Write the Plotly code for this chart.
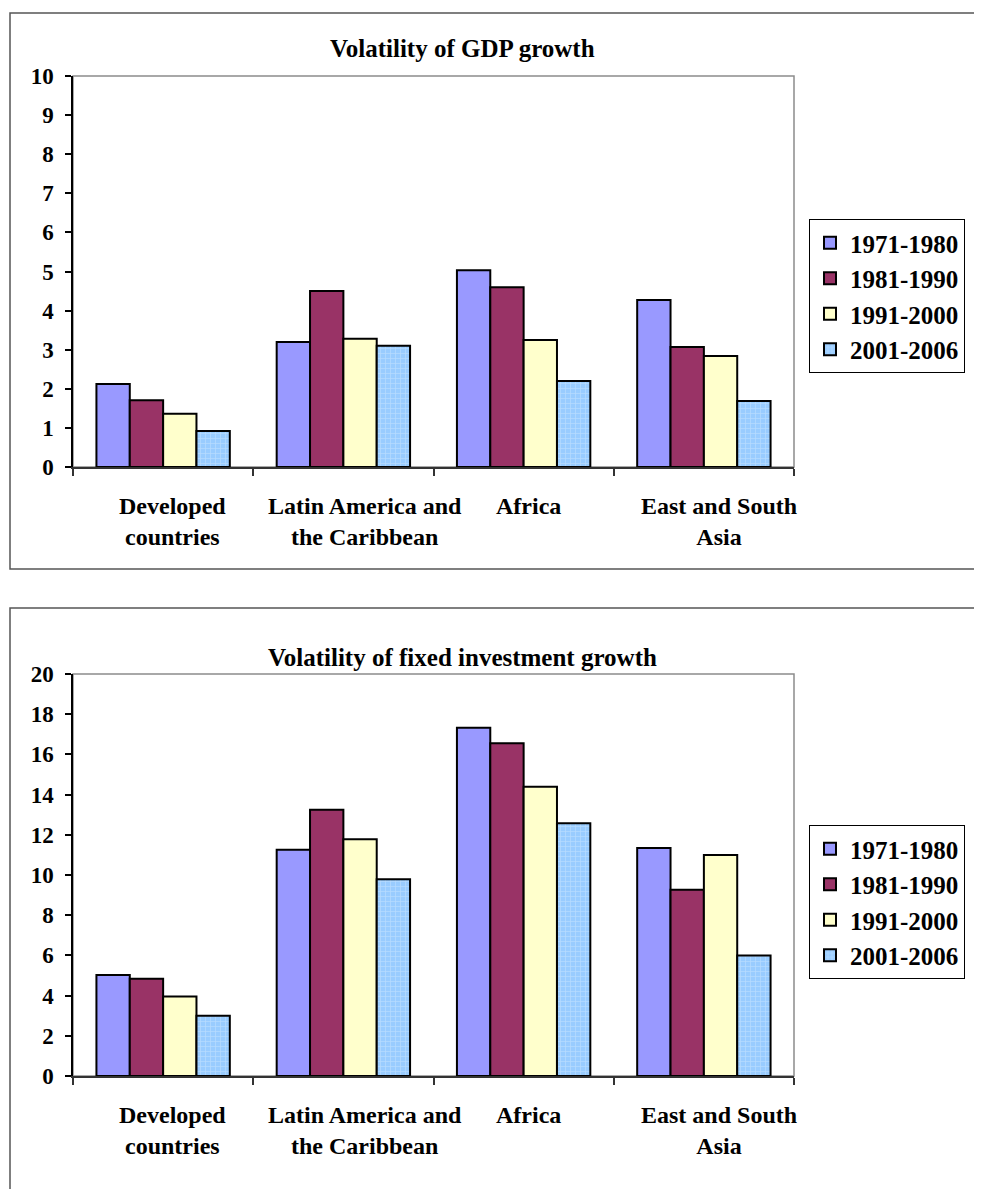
import plotly.graph_objects as go

categories = ["Developed countries", "Latin America and the Caribbean", "Africa", "East and South Asia"]
category_labels = ["Developed<br>countries", "Latin America and<br>the Caribbean", "Africa", "East and South<br>Asia"]
periods = ["1971-1980", "1981-1990", "1991-2000", "2001-2006"]

gdp_1971 = [2.12, 3.20, 5.03, 4.27]
gdp_1981 = [1.71, 4.50, 4.60, 3.07]
gdp_1991 = [1.36, 3.28, 3.25, 2.84]
gdp_2001 = [0.92, 3.10, 2.20, 1.69]

inv_1971 = [5.02, 11.26, 17.33, 11.34]
inv_1981 = [4.84, 13.25, 16.55, 9.27]
inv_1991 = [3.95, 11.78, 14.39, 11.00]
inv_2001 = [3.00, 9.79, 12.57, 5.99]

gdp_ticks = list(range(0, 11))
inv_ticks = list(range(0, 21, 2))

# horizontal offsets (px) of the category labels, as placed in the original
label_xshift = [9, 22, 5, 15]

colors = ["#9999FF", "#993366", "#FFFFCC", "#99CCFF"]
FONT = "Liberation Serif"
PAGE_MARGIN = 8  # default body margin of the page
W, H = 982 - PAGE_MARGIN, 1189 - PAGE_MARGIN

fig = go.Figure()

def px_x(v):
    return (v - PAGE_MARGIN) / W

def px_y(v):
    return 1 - (v - PAGE_MARGIN) / H

gdp_series = [gdp_1971, gdp_1981, gdp_1991, gdp_2001]
inv_series = [inv_1971, inv_1981, inv_1991, inv_2001]

for i, (name, vals) in enumerate(zip(periods, gdp_series)):
    marker = dict(color=colors[i], line=dict(color="black", width=2))
    if i == 3:
        marker["pattern"] = dict(shape="+", fgcolor="#D6EBFF", size=5, solidity=0.25)
    fig.add_trace(go.Bar(x=categories, y=vals, name=name, marker=marker,
                         xaxis="x", yaxis="y", legend="legend"))

for i, (name, vals) in enumerate(zip(periods, inv_series)):
    marker = dict(color=colors[i], line=dict(color="black", width=2))
    if i == 3:
        marker["pattern"] = dict(shape="+", fgcolor="#D6EBFF", size=5, solidity=0.25)
    fig.add_trace(go.Bar(x=categories, y=vals, name=name, marker=marker,
                         xaxis="x2", yaxis="y2", legend="legend2"))

xdom = [px_x(73), px_x(794)]
tickfont = dict(family=FONT, size=23, color="black", weight="bold")
catfont = dict(family=FONT, size=24, color="black", weight="bold")

def xaxis(anchor):
    return dict(domain=xdom, anchor=anchor, type="category", tickson="boundaries",
                range=[-0.5, len(categories) - 0.5],
                ticks="outside", ticklen=7, tickcolor="#333", tickwidth=1.5,
                showline=True, linecolor="#333", linewidth=2, showgrid=False,
                showticklabels=False, automargin=False, fixedrange=True)

def yaxis(anchor, dom, rng, ticks):
    return dict(domain=dom, anchor=anchor, range=rng, tickvals=ticks,
                ticks="outside", ticklen=6, tickcolor="black", tickwidth=1.5,
                showline=True, linecolor="black", linewidth=1.5, showgrid=False,
                zeroline=False, tickfont=tickfont, ticklabelstandoff=7,
                automargin=False, fixedrange=True)

legend_common = dict(font=dict(family=FONT, size=25, color="black", weight="bold"),
                     bordercolor="black", borderwidth=1, bgcolor="white",
                     xanchor="left", yanchor="top", tracegroupgap=0,
                     itemwidth=30)

fig.update_layout(
    width=W, height=H,
    margin=dict(l=0, r=0, t=0, b=0, autoexpand=False),
    paper_bgcolor="white", plot_bgcolor="white",
    barmode="group", bargap=0.26, bargroupgap=0,
    font=dict(family=FONT, color="black"),
    xaxis=xaxis("y"),
    yaxis=yaxis("x", [px_y(467), px_y(76)], [0, 10], gdp_ticks),
    xaxis2=xaxis("y2"),
    yaxis2=yaxis("x2", [px_y(1076), px_y(674)], [0, 20], inv_ticks),
    legend=dict(x=px_x(809), y=px_y(219), **legend_common),
    legend2=dict(x=px_x(809), y=px_y(825), **legend_common),
    showlegend=True,
)

# category labels
for xr, yr in (("x", "y domain"), ("x2", "y2 domain")):
    for cat, lab, dx in zip(categories, category_labels, label_xshift):
        fig.add_annotation(text=lab, x=cat, xref=xr, y=0, yref=yr,
                           xanchor="center", yanchor="top", align="center",
                           xshift=dx, yshift=-24, showarrow=False, font=catfont)

# chart frames
fig.add_shape(type="rect", xref="paper", yref="paper",
              x0=px_x(10), x1=1.05, y0=px_y(569), y1=px_y(13),
              line=dict(color="#555", width=1.5), layer="below")
fig.add_shape(type="rect", xref="paper", yref="paper",
              x0=px_x(10), x1=1.05, y0=-0.05, y1=px_y(608),
              line=dict(color="#555", width=1.5), layer="below")
# plot area borders
for xr, yr in (("x domain", "y domain"), ("x2 domain", "y2 domain")):
    fig.add_shape(type="rect", xref=xr, yref=yr, x0=0, x1=1, y0=0, y1=1,
                  line=dict(color="#8C8C8C", width=1.5), layer="below")

titlefont = dict(family=FONT, size=25, color="black", weight="bold")
fig.add_annotation(text="Volatility of GDP growth", xref="paper", yref="paper",
                   x=px_x(462), y=px_y(48), showarrow=False, font=titlefont,
                   xanchor="center", yanchor="middle")
fig.add_annotation(text="Volatility of fixed investment growth", xref="paper", yref="paper",
                   x=px_x(462), y=px_y(657), showarrow=False, font=titlefont,
                   xanchor="center", yanchor="middle")

fig.write_html("out.html")
